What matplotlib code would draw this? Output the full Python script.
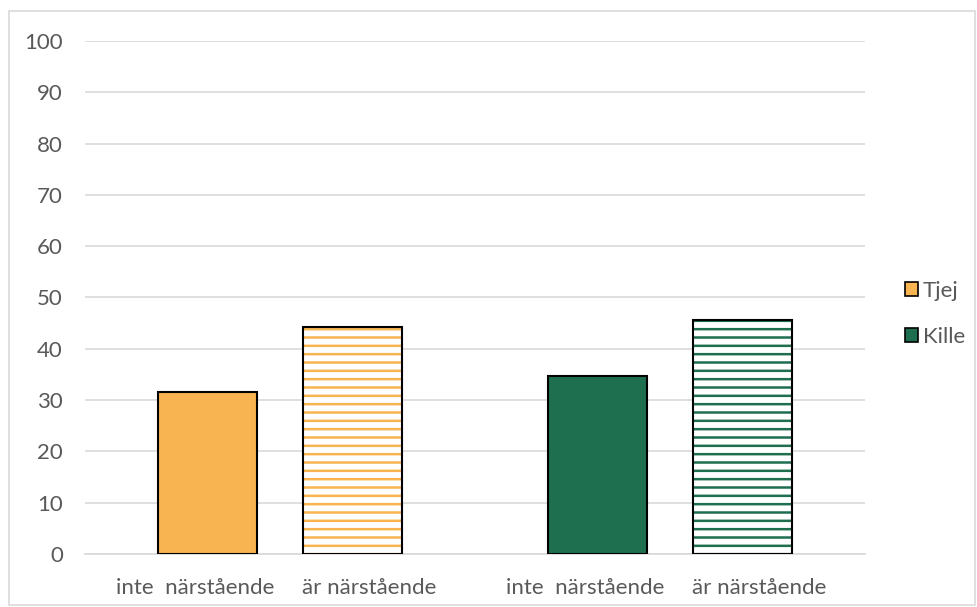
import matplotlib
matplotlib.use("Agg")
import matplotlib.pyplot as plt
from matplotlib.patches import Rectangle, Patch
from matplotlib.transforms import ScaledTranslation

# Data
groups = ["Tjej", "Kille"]
categories = ["inte  närstående", "är närstående"]
values = {
    "Tjej": [31.6, 44.2],
    "Kille": [34.7, 45.6],
}
colors = {"Tjej": "#F8B450", "Kille": "#1E6F50"}
yticks = [0, 10, 20, 30, 40, 50, 60, 70, 80, 90, 100]

plt.rcParams["font.family"] = ["Lato", "DejaVu Sans"]
plt.rcParams["hatch.linewidth"] = 1.8

fig = plt.figure(figsize=(9.78, 6.07), dpi=100)
ax = fig.add_axes([0.0869, 0.0873, 0.7976, 0.8452])

text_color = "#595959"
grid_color = "#D9D9D9"

offset = 0.185
width = 0.254
xticks, xlabels = [], []
for gi, g in enumerate(groups):
    center = gi + 0.5
    for ci, cat in enumerate(categories):
        x = center + (-offset if ci == 0 else offset)
        v = values[g][ci]
        if ci == 0:
            ax.bar(x, v, width=width, color=colors[g], edgecolor="black",
                   linewidth=1.5, zorder=3)
        else:
            ax.bar(x, v, width=width, color="white", edgecolor=colors[g],
                   hatch="--", linewidth=0, zorder=3)
            ax.bar(x, v, width=width, fill=False, edgecolor="black",
                   linewidth=1.5, zorder=4)
        xticks.append(x)
        xlabels.append(cat)

ax.set_xlim(0, 2)
ax.set_ylim(0, 100)
ax.set_yticks(yticks)
ax.set_xticks(xticks)
ax.set_xticklabels(xlabels)
ax.tick_params(axis="both", length=0, labelsize=16, colors=text_color)
ax.tick_params(axis="y", pad=16)
ax.tick_params(axis="x", pad=17)

# nudge category labels apart so they don't crowd each other
for i, lbl in enumerate(ax.get_xticklabels()):
    dx = -0.13 if i % 2 == 0 else 0.17
    lbl.set_transform(lbl.get_transform() + ScaledTranslation(dx, 0, fig.dpi_scale_trans))

ax.yaxis.grid(True, color=grid_color, linewidth=1.2, zorder=0)
ax.set_axisbelow(True)
for s in ["top", "right", "left"]:
    ax.spines[s].set_visible(False)
ax.spines["bottom"].set_color(grid_color)
ax.spines["bottom"].set_linewidth(1.2)

handles = [Patch(facecolor=colors[g], edgecolor="black", linewidth=1.2) for g in groups]
leg = fig.legend(handles, groups, loc="center left", bbox_to_anchor=(0.905, 0.483),
                 frameon=False, fontsize=16, handlelength=0.6, handleheight=0.6,
                 handletextpad=0.2, labelspacing=1.15, labelcolor=text_color)

# Outer chart border
fig.patches.append(Rectangle((0.009, 0.004), 0.988, 0.978, transform=fig.transFigure,
                             fill=False, edgecolor="#D9D9D9", linewidth=1.2))

fig.savefig("out.png", dpi=100)
